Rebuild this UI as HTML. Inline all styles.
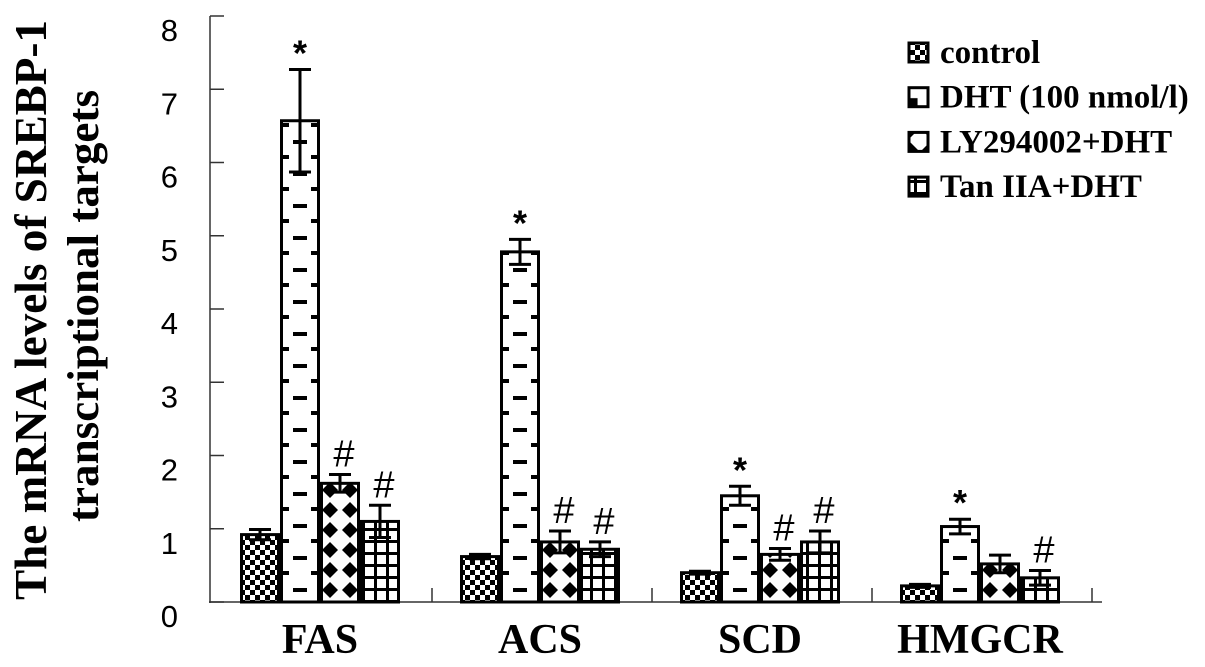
<!DOCTYPE html>
<html><head><meta charset="utf-8"><style>
html,body{margin:0;padding:0;background:#fff;}
svg{display:block;}
</style></head><body>
<svg id="chart" width="1205" height="667" xmlns="http://www.w3.org/2000/svg">
<defs>
<pattern id="p-control" patternUnits="userSpaceOnUse" width="10" height="10">
<rect width="10" height="10" fill="#fff"/><rect width="5" height="5" fill="#000"/><rect x="5" y="5" width="5" height="5" fill="#000"/>
</pattern>
<pattern id="p-dht" patternUnits="userSpaceOnUse" width="220" height="32" x="280" y="10">
<rect width="220" height="32" fill="#fff"/>
<rect x="13" y="2" width="14" height="4" fill="#000"/>
<rect x="0" y="17" width="9" height="4" fill="#000"/><rect x="31" y="17" width="9" height="4" fill="#000"/>
</pattern>
<pattern id="p-dht-legend" patternUnits="objectBoundingBox" patternContentUnits="objectBoundingBox" width="1" height="1">
<rect width="1" height="1" fill="#fff"/><rect x="0" y="0.55" width="0.45" height="0.45" fill="#000"/>
</pattern>
<pattern id="p-ly" patternUnits="userSpaceOnUse" width="20" height="20" x="0" y="0">
<rect width="20" height="20" fill="#fff"/>
<polygon points="10,2 18,10 10,18 2,10" fill="#000"/>
</pattern>
<pattern id="p-tan" patternUnits="userSpaceOnUse" width="12" height="12" x="2" y="0">
<rect width="12" height="12" fill="#fff"/><rect width="3" height="12" fill="#000"/><rect width="12" height="3" fill="#000"/>
</pattern>
</defs>
<g id="plot"></g>
</svg>
<script>
const categories = ["FAS","ACS","SCD","HMGCR"];
const seriesNames = ["control","DHT (100 nmol/l)","LY294002+DHT","Tan IIA+DHT"];
const controlVals = [0.92,0.62,0.40,0.22];
const dhtVals = [6.57,4.78,1.45,1.03];
const lyVals = [1.62,0.82,0.65,0.52];
const tanVals = [1.10,0.72,0.82,0.33];
const controlErr = [0.07,0.03,0.02,0.02];
const dhtErr = [0.70,0.17,0.13,0.10];
const lyErr = [0.12,0.15,0.08,0.12];
const tanErr = [0.22,0.10,0.15,0.10];
const controlMarks = ["","","",""];
const dhtMarks = ["*","*","*","*"];
const lyMarks = ["#","#","#",""];
const tanMarks = ["#","#","#","#"];
const yTicks = [0,1,2,3,4,5,6,7,8];

const NS="http://www.w3.org/2000/svg";
const g=document.getElementById('plot');
const x0=212, band=220, y0=602, yTop=16, yMax=8;
const yS=v=>y0-(v/yMax)*(y0-yTop);
const xBar=(ci,si)=>x0+ci*band+28+si*40;
function el(t,a,p){const e=document.createElementNS(NS,t);for(const k in a)e.setAttribute(k,a[k]);(p||g).appendChild(e);return e;}
document.getElementById('p-dht').setAttribute('x', xBar(0,1));
document.getElementById('p-ly').setAttribute('x', xBar(0,2));

const vals=[controlVals,dhtVals,lyVals,tanVals];
const errs=[controlErr,dhtErr,lyErr,tanErr];
const marks=[controlMarks,dhtMarks,lyMarks,tanMarks];
const fills=["url(#p-control)","url(#p-dht)","url(#p-ly)","url(#p-tan)"];
const legendFills=["url(#p-control)","url(#p-dht-legend)","url(#p-ly)","url(#p-tan)"];
const sKeys=["control","dht","ly","tan"];

let ax=el('line',{x1:210,y1:yTop,x2:210,y2:y0+1,stroke:'#333','stroke-width':1.5});


let axx=el('line',{x1:209,y1:y0,x2:x0+4*band+10,y2:y0,stroke:'#333','stroke-width':1.5});


yTicks.forEach(t=>{
  const y=yS(t);
  const tk=el('line',{x1:210,y1:y,x2:224,y2:y,stroke:'#333','stroke-width':1.5});
  
  
  const tx=el('text',{x:178,y:y+25,'text-anchor':'end','font-family':'Liberation Sans, sans-serif','font-size':31});
  tx.textContent=t;
  
  
});
categories.forEach((c,ci)=>{
  const xs=x0+(ci+1)*band;
  const st=el('line',{x1:xs,y1:y0-14,x2:xs,y2:y0,stroke:'#333','stroke-width':1.5});
  
  
  const lb=el('text',{x:x0+ci*band+band/2-2,y:653,'text-anchor':'middle','font-family':'Liberation Serif, serif','font-weight':'bold','font-size':42});
  lb.textContent=c;
  
  
  vals.forEach((arr,si)=>{
    const v=arr[ci], e=errs[si][ci], x=xBar(ci,si), yt=yS(v);
    const r=el('rect',{x:x+1.5,y:yt,width:37,height:y0-yt,fill:fills[si],stroke:'#000','stroke-width':3});
    
    
    const cx=x+20, yh=yS(v+e), yl=yS(v-e);
    const eg=el('path',{d:`M${cx},${yl}V${yh}M${cx-11},${yh}H${cx+11}M${cx-11},${yl}H${cx+11}`,stroke:'#000','stroke-width':3,fill:'none'});
    
    
    const m=marks[si][ci];
    if(m){
      const isStar=m==='*';
      const mt=el('text',{x:cx+(isStar?0:4),y:yh-(isStar?4:8),'text-anchor':'middle','font-family':'Liberation Sans, sans-serif','font-size':isStar?36:38,'font-weight':isStar?'bold':'normal'});
      mt.textContent=m;
      
      
    }
  });
});
const yt1=el('text',{transform:'translate(46,310) rotate(-90)','text-anchor':'middle','font-family':'Liberation Serif, serif','font-weight':'bold','font-size':46,textLength:580,lengthAdjust:'spacingAndGlyphs'});
yt1.textContent='The mRNA levels of SREBP-1';


const yt2=el('text',{transform:'translate(98,306) rotate(-90)','text-anchor':'middle','font-family':'Liberation Serif, serif','font-weight':'bold','font-size':44,textLength:432,lengthAdjust:'spacingAndGlyphs'});
yt2.textContent='transcriptional targets';


const lg=el('g',{});


seriesNames.forEach((n,i)=>{
  const y=63+i*44.7;
  const sw=el('rect',{x:909,y:y-20,width:19,height:19,fill:legendFills[i],stroke:'#000','stroke-width':3},lg);
  
  
  const t=el('text',{x:940,y:y,'font-family':'Liberation Serif, serif','font-weight':'bold','font-size':33},lg);
  t.textContent=n;
  
  
});
</script>
</body></html>
